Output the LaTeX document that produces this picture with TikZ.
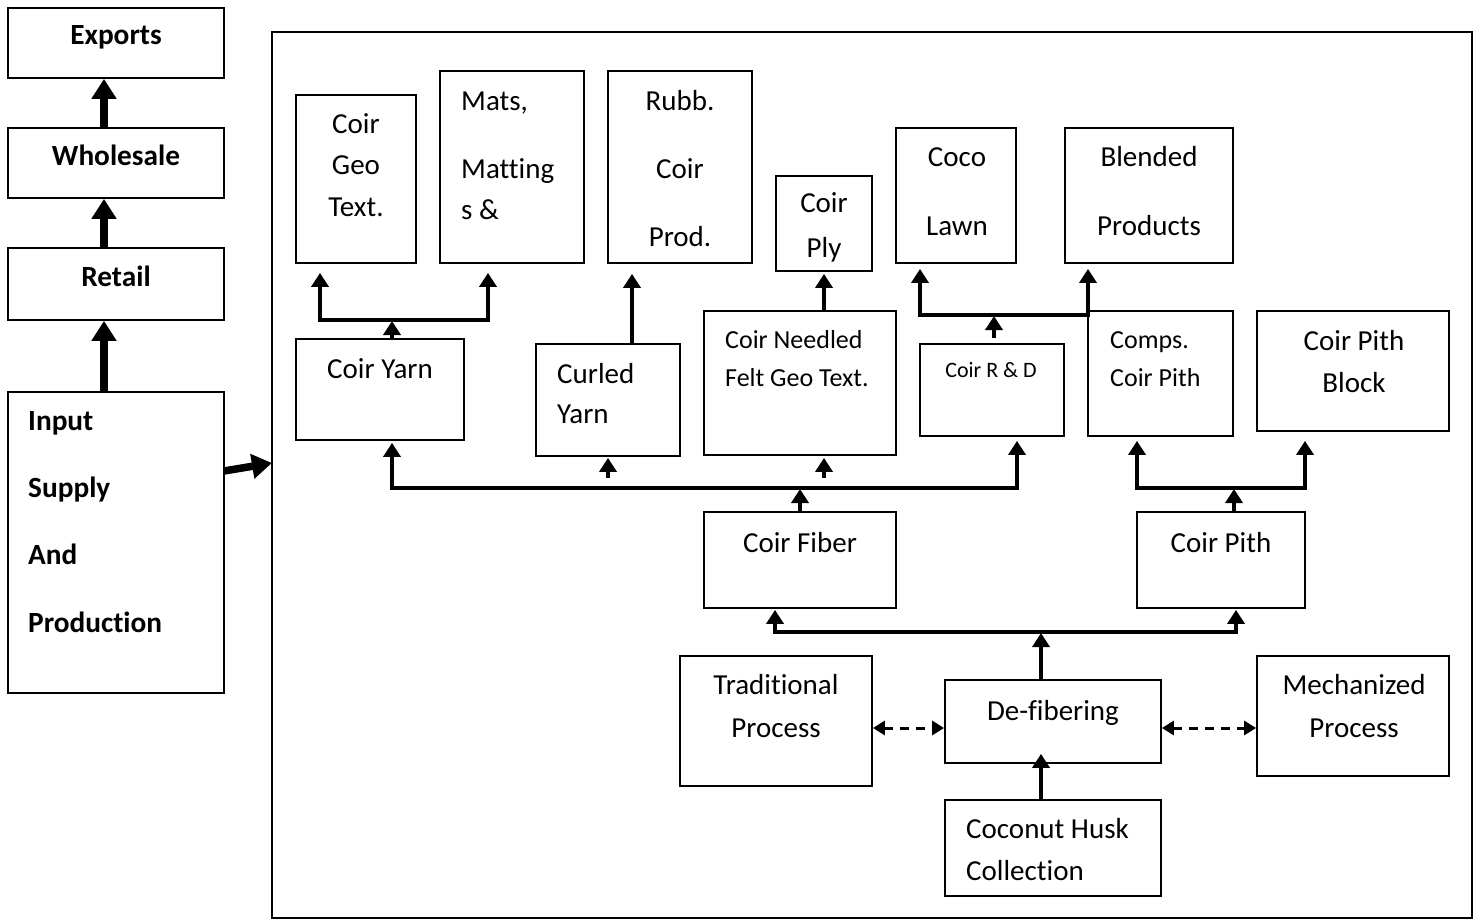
\documentclass[tikz,border=0pt]{standalone}
\usepackage{fontspec}
\setmainfont{Carlito}[Ligatures=NoCommon]
\usetikzlibrary{arrows.meta,fit}
% rectangle node spanning two corner points given in pixel-like units
\newcommand\mybox[5]{%
  \path (#2,#3) coordinate (#1-nw) (#4,#5) coordinate (#1-se);
  \node[box, fit=(#1-nw)(#1-se)] (#1) {};}
\begin{document}
\begin{tikzpicture}[x=1pt,y=-1pt,
  box/.style={draw, line width=1.8pt, inner sep=0pt, rectangle},
  txt/.style={inner sep=0pt, font=\fontsize{29}{34}\selectfont},
  txtm/.style={inner sep=0pt, font=\fontsize{26}{31}\selectfont},
  txts/.style={inner sep=0pt, font=\fontsize{22}{26}\selectfont},
  txtb/.style={inner sep=0pt, font=\fontsize{29.3}{34}\selectfont\bfseries},
  arr/.style={line width=4.5pt, -{Triangle[width=17pt,length=14pt]}},
  bigarr/.style={line width=7.5pt, -{Triangle[width=24pt,length=20pt]}},
  bus/.style={line width=3.2pt, line cap=rect},
  dasharr/.style={line width=3pt, dash pattern=on 9pt off 7pt,
    {Triangle[width=14pt,length=12pt]}-{Triangle[width=14pt,length=12pt]}},
]
\useasboundingbox (0,0) rectangle (1480,920);

% ---- value chain column ----
\mybox{exports}{8}{8}{224}{78}
\mybox{wholesale}{8}{128}{224}{198}
\mybox{retail}{8}{248}{224}{320}
\mybox{input}{8}{392}{224}{693}
\node[txtb, anchor=base] (exports-t) at (116,45) {Exports};
\node[txtb, anchor=base] (wholesale-t) at (116,166) {Wholesale};
\node[txtb, anchor=base] (retail-t) at (116,286) {Retail};
\node[txtb, anchor=base west] (input-t1) at (28,430) {Input};
\node[txtb, anchor=base west] (input-t2) at (28,497) {Supply};
\node[txtb, anchor=base west] (input-t3) at (28,564) {And};
\node[txtb, anchor=base west] (input-t4) at (28,632) {Production};

% ---- production panel ----
\mybox{panel}{272}{32}{1472}{918}
\mybox{geo}{296}{95}{416}{263}
\mybox{mats}{440}{71}{584}{263}
\mybox{rubb}{608}{71}{752}{263}
\mybox{ply}{776}{176}{872}{271}
\mybox{lawn}{896}{128}{1016}{263}
\mybox{blend}{1065}{128}{1233}{263}
\mybox{yarn}{296}{339}{464}{440}
\mybox{curled}{536}{344}{680}{456}
\mybox{felt}{704}{311}{896}{455}
\mybox{rnd}{920}{344}{1064}{436}
\mybox{comps}{1088}{311}{1233}{436}
\mybox{block}{1257}{311}{1449}{431}
\mybox{fiber}{704}{512}{896}{608}
\mybox{pith}{1137}{512}{1305}{608}
\mybox{trad}{680}{656}{872}{786}
\mybox{defib}{945}{680}{1161}{763}
\mybox{mech}{1257}{656}{1449}{776}
\mybox{husk}{945}{800}{1161}{896}

\node[txt, anchor=base] (geo-t1) at (356,134) {Coir};
\node[txt, anchor=base] (geo-t2) at (356,175) {Geo};
\node[txt, anchor=base] (geo-t3) at (356,217) {Text.};
\node[txt, anchor=base west] (mats-t1) at (461,111) {Mats,};
\node[txt, anchor=base west] (mats-t2) at (461,179) {Matting};
\node[txt, anchor=base west] (mats-t3) at (461,219) {s \&};
\node[txt, anchor=base] (rubb-t1) at (680,111) {Rubb.};
\node[txt, anchor=base] (rubb-t2) at (680,179) {Coir};
\node[txt, anchor=base] (rubb-t3) at (680,247) {Prod.};
\node[txt, anchor=base] (ply-t1) at (824,213) {Coir};
\node[txt, anchor=base] (ply-t2) at (824,257) {Ply};
\node[txt, anchor=base] (lawn-t1) at (957,167) {Coco};
\node[txt, anchor=base] (lawn-t2) at (957,235) {Lawn};
\node[txt, anchor=base] (blend-t1) at (1149,167) {Blended};
\node[txt, anchor=base] (blend-t2) at (1149,235) {Products};
\node[txt, anchor=base] (yarn-t) at (380,378) {Coir Yarn};
\node[txt, anchor=base west] (curled-t1) at (557,383) {Curled};
\node[txt, anchor=base west] (curled-t2) at (557,423) {Yarn};
\node[txtm, anchor=base west] (felt-t1) at (725,348) {Coir Needled};
\node[txtm, anchor=base west] (felt-t2) at (725,386) {Felt Geo Text.};
\node[txts, anchor=base] (rnd-t) at (991,377) {Coir R \& D};
\node[txtm, anchor=base west] (comps-t1) at (1110,348) {Comps.};
\node[txtm, anchor=base west] (comps-t2) at (1110,386) {Coir Pith};
\node[txt, anchor=base] (block-t1) at (1354,350) {Coir Pith};
\node[txt, anchor=base] (block-t2) at (1354,392) {Block};
\node[txt, anchor=base] (fiber-t) at (800,552) {Coir Fiber};
\node[txt, anchor=base] (pith-t) at (1221,552) {Coir Pith};
\node[txt, anchor=base] (trad-t1) at (776,694) {Traditional};
\node[txt, anchor=base] (trad-t2) at (776,737) {Process};
\node[txt, anchor=base] (defib-t) at (1053,720) {De-fibering};
\node[txt, anchor=base] (mech-t1) at (1354,694) {Mechanized};
\node[txt, anchor=base] (mech-t2) at (1354,737) {Process};
\node[txt, anchor=base west] (husk-t1) at (966,838) {Coconut Husk};
\node[txt, anchor=base west] (husk-t2) at (966,880) {Collection};

% ---- connectors: value chain ----
\coordinate (lx) at (104,0);
\draw[bigarr] (lx |- wholesale.north) -- (lx |- exports.south);
\draw[bigarr] (lx |- retail.north) -- (lx |- wholesale.south);
\draw[bigarr] (lx |- input.north) -- (lx |- retail.south);
\coordinate (sa) at (224,471);
\coordinate (sb) at (272,463);
\draw[bigarr] (sa) -- (sb);

% yarn products
\coordinate (yb1) at (320,320);
\coordinate (yb2) at (488,320);
\coordinate (yb0) at (392,320);
\draw[bus] (yb1) -- (yb2);
\draw[arr, shorten >=9pt] (yb1) -- (yb1 |- geo.south);
\draw[arr, shorten >=9pt] (yb2) -- (yb2 |- mats.south);
\draw[arr, shorten >=1pt] (yb0 |- yarn.north) -- (yb0);

% curled yarn to rubberised products
\coordinate (cx) at (632,0);
\draw[arr, shorten >=10pt] (cx |- curled.north) -- (cx |- rubb.south);

% needled felt to coir ply
\coordinate (px) at (824,0);
\draw[arr, shorten >=2pt] (px |- felt.north) -- (px |- ply.south);

% R & D outputs
\coordinate (rb1) at (920,315);
\coordinate (rb2) at (1088,315);
\coordinate (rb0) at (994,315);
\coordinate (rr) at (994,338);
\draw[bus] (rb1) -- (rb2);
\draw[arr, shorten >=5pt] (rb1) -- (rb1 |- lawn.south);
\draw[arr, shorten >=5pt] (rb2) -- (rb2 |- blend.south);
\draw[arr, shorten >=1pt] (rr) -- (rb0);

% coir fibre distribution
\coordinate (fb1) at (392,488);
\coordinate (fb2) at (1017,488);
\coordinate (fc) at (800,488);
\coordinate (cu) at (608,478);
\coordinate (fe) at (824,478);
\draw[bus] (fb1) -- (fb2);
\draw[arr, shorten >=2pt] (fb1) -- (fb1 |- yarn.south);
\draw[arr, shorten >=4pt] (fb2) -- (fb2 |- rnd.south);
\draw[arr, shorten >=1pt] (cu) -- (cu |- curled.south);
\draw[arr, shorten >=2pt] (fe) -- (fe |- felt.south);
\draw[arr, shorten >=1pt] (fc |- fiber.north) -- (fc);

% coir pith distribution
\coordinate (pb1) at (1137,488);
\coordinate (pb2) at (1305,488);
\coordinate (pb0) at (1234,488);
\draw[bus] (pb1) -- (pb2);
\draw[arr, shorten >=4pt] (pb1) -- (pb1 |- comps.south);
\draw[arr, shorten >=9pt] (pb2) -- (pb2 |- block.south);
\draw[arr, shorten >=1pt] (pb0 |- pith.north) -- (pb0);

% de-fibering outputs
\coordinate (lb1) at (775,632);
\coordinate (lb2) at (1236,632);
\coordinate (lb0) at (1041,632);
\draw[bus] (lb1) -- (lb2);
\draw[arr, shorten >=1pt] (lb1) -- (lb1 |- fiber.south);
\draw[arr, shorten >=1pt] (lb2) -- (lb2 |- pith.south);
\draw[arr, shorten >=1pt] (lb0 |- defib.north) -- (lb0);
\draw[arr, shorten >=-10pt] (lb0 |- husk.north) -- (lb0 |- defib.south);

% process options
\coordinate (dy) at (0,728);
\draw[dasharr] (trad.east |- dy) -- (defib.west |- dy);
\draw[dasharr] (defib.east |- dy) -- (mech.west |- dy);
\end{tikzpicture}
\end{document}
